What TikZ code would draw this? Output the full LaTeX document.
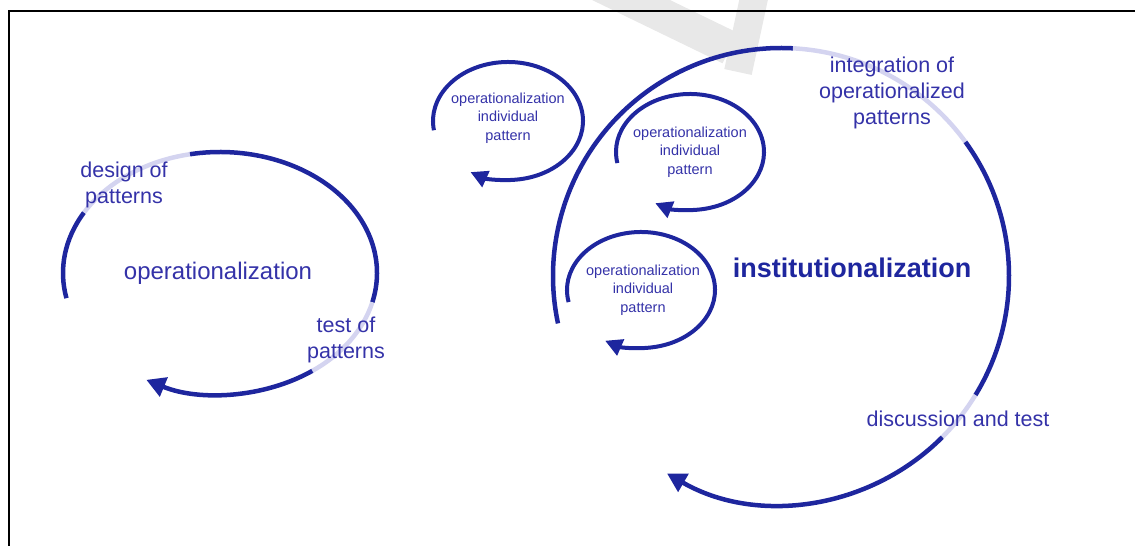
\documentclass[tikz,border=0pt]{standalone}
\usepackage{fontspec}
\setmainfont{Liberation Sans}
\usetikzlibrary{arrows.meta}

\definecolor{cycleblue}{RGB}{30,38,158}
\definecolor{cyclelight}{RGB}{212,212,240}
\definecolor{labelblue}{RGB}{52,50,168}

\begin{document}
\begin{tikzpicture}[x=1pt,y=1pt]

\tikzstyle{cycle}=[draw=cycleblue,line width=4.5pt]
\tikzstyle{faded}=[cycle,draw=cyclelight]
\tikzstyle{cyclehead}=[cycle,-{Triangle[length=19pt,width=20pt]}]
\tikzstyle{loop}=[cycle,line width=4pt]
\tikzstyle{loophead}=[loop,-{Triangle[length=17pt,width=17pt]}]
\tikzstyle{label}=[text=labelblue,align=center,inner sep=0pt,font=\fontsize{21.5}{26}\selectfont]
\tikzstyle{looplabel}=[label,font=\fontsize{14.5}{18.5}\selectfont]

\clip (0,0) rectangle (1135,546);

%watermark
\draw[black!9,line width=34pt] (598,562) -- (730,498);
\draw[black!9,line width=28pt] (757,562) -- (738,474);

%frame
\draw[line width=2pt] (9,0) -- (9,535) -- (1135,535);

%centres
\coordinate (opc) at (220,273);
\coordinate (instc) at (781,270);
\coordinate (loopa) at (508,425);
\coordinate (loopb) at (690,394);
\coordinate (loopc) at (641,256);

%operationalization cycle
\draw[cycle] (opc) ++(192:157 and 121) arc[start angle=192,end angle=150,x radius=157pt,y radius=121pt];
\draw[faded] (opc) ++(150:157 and 121) arc[start angle=150,end angle=101,x radius=157pt,y radius=121pt];
\draw[cycle] (opc) ++(101:157 and 121) arc[start angle=101,end angle=-14,x radius=157pt,y radius=121pt];
\draw[faded] (opc) ++(-14:157 and 121) arc[start angle=-14,end angle=-54,x radius=157pt,y radius=121pt];
\draw[cyclehead] (opc) ++(-54:157 and 121) arc[start angle=-54,end angle=-118,x radius=157pt,y radius=121pt];

\node[label,font=\fontsize{24}{28}\selectfont] (op) at (218,273) {operationalization};
\node[label] (design) at (124,361) {design of\\patterns};
\node[label] (test) at (346,206) {test of\\patterns};

%institutionalization cycle
\draw[cycle] (instc) ++(192:228) arc[start angle=192,end angle=87,radius=228pt];
\draw[faded] (instc) ++(87:228) arc[start angle=87,end angle=36,radius=228pt];
\draw[cycle] (instc) ++(36:228) arc[start angle=36,end angle=-31.5,radius=228pt];
\draw[faded] (instc) ++(-31.5:228) arc[start angle=-31.5,end angle=-45,radius=228pt];
\draw[cyclehead] (instc) ++(-45:228) arc[start angle=-45,end angle=-120,radius=228pt];

\node[label,text=cycleblue,font=\fontsize{27}{32}\selectfont\bfseries] (inst) at (852,278) {institutionalization};
\node[label] (integ) at (892,453) {integration of\\operationalized\\patterns};
\node[label] (disc) at (958,127) {discussion and test};

%individual patterns
\draw[loophead] (loopa) ++(189:75 and 59) arc[start angle=189,end angle=-120,x radius=75pt,y radius=59pt];
\node[looplabel] (pata) at (508,428) {operationalization\\individual\\pattern};

\draw[loophead] (loopb) ++(191:74 and 58) arc[start angle=191,end angle=-118,x radius=74pt,y radius=58pt];
\node[looplabel] (patb) at (690,394) {operationalization\\individual\\pattern};

\draw[loophead] (loopc) ++(192:74 and 58) arc[start angle=192,end angle=-119,x radius=74pt,y radius=58pt];
\node[looplabel] (patc) at (643,256) {operationalization\\individual\\pattern};

\end{tikzpicture}
\end{document}
